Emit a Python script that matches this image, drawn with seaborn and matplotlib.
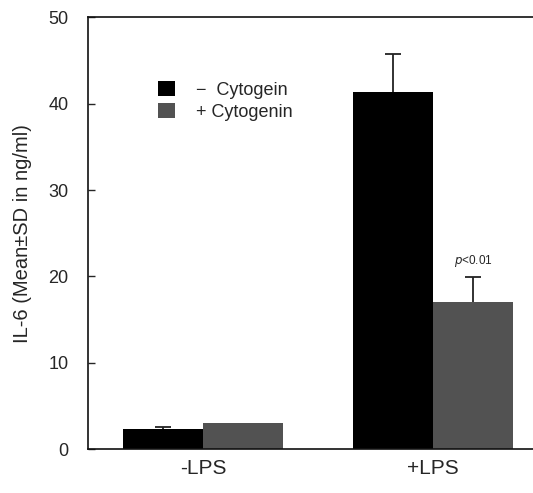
import numpy as np
import pandas as pd
import matplotlib
matplotlib.use("Agg")
import matplotlib.pyplot as plt
import seaborn as sns

# valores
conditions = ["-LPS", "+LPS"]
treatments = ["\u2212  Cytogein", "+ Cytogenin"]
mean_minus = [2.3, 41.4]
mean_plus = [3.0, 17.0]
sd_minus = [0.3, 4.4]
sd_plus = [0.0, 2.9]
y_ticks = [0, 10, 20, 30, 40, 50]

sns.set_theme(style="white")
plt.rcParams["font.family"] = ["Liberation Sans", "DejaVu Sans"]

df = pd.DataFrame({
    "condition": conditions * 2,
    "treatment": [treatments[0]] * 2 + [treatments[1]] * 2,
    "il6": mean_minus + mean_plus,
    "sd": sd_minus + sd_plus,
})

fig = plt.figure(figsize=(5.33, 4.93), dpi=100)
ax = fig.add_axes([0.165, 0.089, 0.835, 0.876])

palette = {treatments[0]: "#000000", treatments[1]: "#525252"}
sns.barplot(data=df, x="condition", y="il6", hue="treatment", hue_order=treatments,
            order=conditions, palette=palette, errorbar=None, width=0.696,
            saturation=1, ax=ax, edgecolor="none", linewidth=0)

# barras de erro (somente para cima, sem tampa embaixo)
cap = 0.035
for cont, means, sds in zip(ax.containers, [mean_minus, mean_plus], [sd_minus, sd_plus]):
    for bar, m, s in zip(cont, means, sds):
        if s <= 0:
            continue
        xc = bar.get_x() + bar.get_width() / 2
        ax.vlines(xc, m, m + s, color="#222222", linewidth=1.3, zorder=3)
        ax.hlines(m + s, xc - cap, xc + cap, color="#222222", linewidth=1.3, zorder=3)

gray_bar = ax.containers[1][1]
ax.text(gray_bar.get_x() + gray_bar.get_width() / 2, mean_plus[1] + sd_plus[1] + 1.0,
        "$\\it{p}$<0.01", ha="center", va="bottom", fontsize=8.5)

ax.set_xlim(-0.5, 1.435)
ax.set_ylim(0, 50)
ax.set_yticks(y_ticks)
ax.tick_params(axis="y", direction="in", length=5, width=1, labelsize=13, pad=14, left=True)
ax.tick_params(axis="x", length=0, labelsize=15, pad=7)
ax.set_xlabel("")
ax.set_ylabel("IL-6 (Mean\u00b1SD in ng/ml)", fontsize=14.5, labelpad=12)

for side in ["left", "top", "bottom"]:
    ax.spines[side].set_visible(True)
    ax.spines[side].set_color("#111111")
    ax.spines[side].set_linewidth(1.2)
ax.spines["right"].set_visible(False)

ax.legend(loc="upper left", bbox_to_anchor=(0.122, 0.89), frameon=False, fontsize=13,
          handlelength=0.9, handleheight=0.9, handletextpad=1.2, labelspacing=0.25)

fig.savefig("out.png", dpi=100)
